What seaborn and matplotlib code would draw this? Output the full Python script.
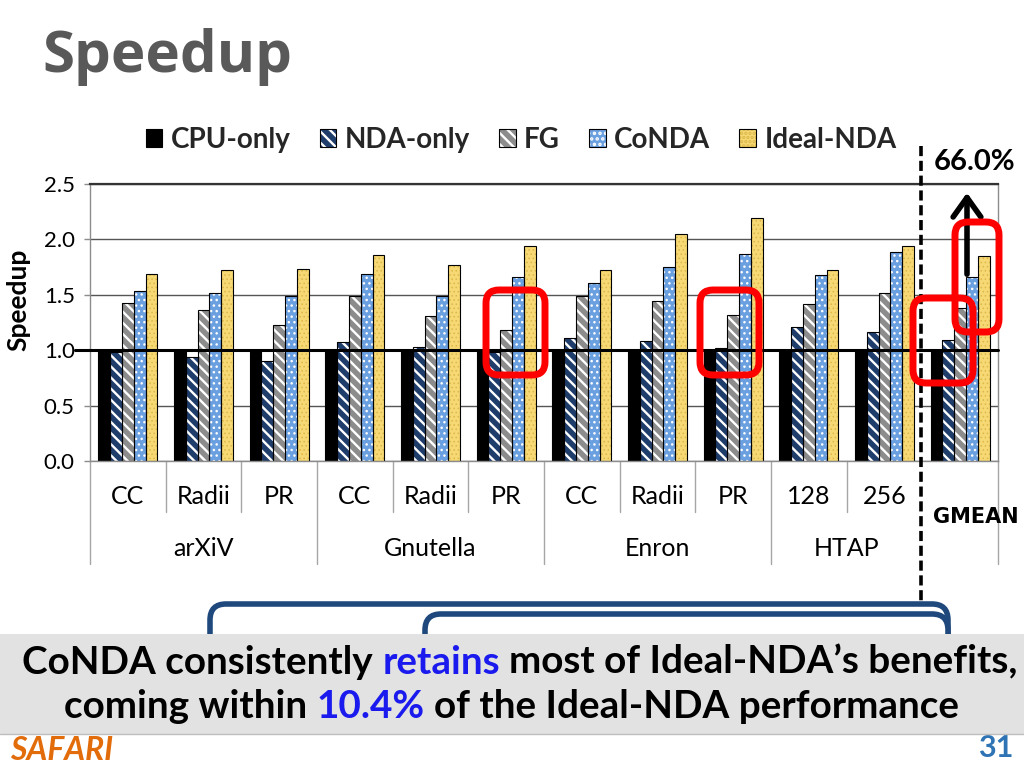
import numpy as np
import pandas as pd
import matplotlib
matplotlib.use("Agg")
import matplotlib.pyplot as plt
import seaborn as sns
from matplotlib.patches import Rectangle, FancyBboxPatch, Patch, FancyArrowPatch
from matplotlib.transforms import IdentityTransform
from matplotlib.lines import Line2D
from matplotlib.legend_handler import HandlerTuple

# ---------------- data ----------------
categories = ["CC", "Radii", "PR", "CC", "Radii", "PR", "CC", "Radii", "PR", "128", "256", "GMEAN"]
groups = ["arXiV", "Gnutella", "Enron", "HTAP"]
group_spans = [(0, 2), (3, 5), (6, 8), (9, 10)]
series = ["CPU-only", "NDA-only", "FG", "CoNDA", "Ideal-NDA"]
cpu_only = [1.00, 1.00, 1.00, 1.00, 1.00, 1.00, 1.00, 1.00, 1.00, 1.00, 1.00, 1.00]
nda_only = [0.98, 0.94, 0.90, 1.07, 1.03, 0.98, 1.11, 1.08, 1.02, 1.21, 1.16, 1.09]
fg = [1.43, 1.36, 1.23, 1.49, 1.31, 1.18, 1.49, 1.44, 1.32, 1.42, 1.52, 1.38]
conda = [1.53, 1.52, 1.49, 1.69, 1.49, 1.66, 1.61, 1.75, 1.87, 1.68, 1.89, 1.66]
ideal_nda = [1.69, 1.72, 1.73, 1.86, 1.77, 1.94, 1.72, 2.05, 2.19, 1.72, 1.94, 1.85]
yticks = [0.0, 0.5, 1.0, 1.5, 2.0, 2.5]

# ---------------- styling ----------------
W, H = 1024, 768
sns.set_theme(style="white")
plt.rcParams["font.family"] = ["Lato", "DejaVu Sans"]
plt.rcParams["hatch.linewidth"] = 1.7

face = {"CPU-only": "#000000", "NDA-only": "#1F3D6B", "FG": "#8C8C8C",
        "CoNDA": "#6A9FE0", "Ideal-NDA": "#F6D874"}
hatch = {"CPU-only": None, "NDA-only": "\\\\\\", "FG": "\\\\\\", "CoNDA": "...", "Ideal-NDA": "...."}
hcol = {"CPU-only": "#000000", "NDA-only": "#FFFFFF", "FG": "#FFFFFF",
        "CoNDA": "#FFFFFF", "Ideal-NDA": "#DDB848"}
hlw = {"CPU-only": 1.0, "NDA-only": 1.7, "FG": 1.7, "CoNDA": 1.0, "Ideal-NDA": 0.6}

keys = [f"k{i}" for i in range(len(categories))]
rows = []
for s, vals in zip(series, [cpu_only, nda_only, fg, conda, ideal_nda]):
    for k, v in zip(keys, vals):
        rows.append({"key": k, "series": s, "value": v})
df = pd.DataFrame(rows)

fig = plt.figure(figsize=(W / 100, H / 100), dpi=100)
AX_L, AX_R, AX_T, AX_B = 90, 998, 184, 461
ax = fig.add_axes([AX_L / W, 1 - AX_B / H, (AX_R - AX_L) / W, (AX_B - AX_T) / H])

sns.barplot(data=df, x="key", y="value", hue="series", order=keys, hue_order=series,
            palette=face, width=0.78, gap=0, saturation=1, legend=False, ax=ax)

for cont, s in zip(ax.containers, series):
    for bar in cont:
        bar.set_facecolor(face[s])
        if hatch[s]:
            bar.set_hatch(hatch[s])
        bar.set_edgecolor(hcol[s])
        bar.set_linewidth(0)
        if hasattr(bar, "set_hatch_linewidth"):
            bar.set_hatch_linewidth(hlw[s])
        bar.set_zorder(2)
        ax.add_patch(Rectangle((bar.get_x(), bar.get_y()), bar.get_width(), bar.get_height(),
                               fill=False, edgecolor="black", linewidth=0.8, zorder=2.5))

ax.set_xlim(-0.5, len(categories) - 0.5)
ax.set_ylim(0, 2.5)
ax.set_yticks(yticks)
ax.set_yticklabels([f"{t:.1f}" for t in yticks], fontsize=16)
ax.set_xticks([])
ax.set_xlabel("")
ax.set_ylabel("")
ax.yaxis.grid(True, color="#555555", linewidth=1)
ax.set_axisbelow(True)
ax.tick_params(axis="y", left=True, length=4, width=1, color="#8C8C8C", pad=7, labelcolor="black")
for side in ["left", "bottom", "right"]:
    ax.spines[side].set_color("#8C8C8C")
    ax.spines[side].set_linewidth(1)
ax.spines["top"].set_color("#333333")
ax.spines["top"].set_linewidth(1.6)
ax.axhline(1.0, xmin=-0.016, xmax=1, color="black", linewidth=2.2, zorder=3, clip_on=False)

# two-level category axis
ah = AX_B - AX_T
def ay(py):
    return (AX_B - py) / ah

xt = ax.get_xaxis_transform()
for i, c in enumerate(categories[:-1]):
    ax.text(i, ay(497), c, transform=xt, ha="center", va="center", fontsize=18, color="black")
for g, (a, b) in zip(groups, group_spans):
    ax.text((a + b) / 2, ay(549), g, transform=xt, ha="center", va="center", fontsize=18, color="black")
group_edges = {-0.5, 2.5, 5.5, 8.5, 11.5}
for e in np.arange(-0.5, len(categories), 1.0):
    if abs(e - 10.5) < 1e-6:
        continue
    bottom = 564 if any(abs(e - g) < 1e-6 for g in group_edges) else 512
    ax.add_line(Line2D([e, e], [0, ay(bottom)], transform=xt, color="#A6A6A6",
                       linewidth=1, clip_on=False))

# y label
fig.text(18 / W, 1 - 300 / H, "Speedup", rotation=90, fontsize=19, fontweight="bold",
         ha="center", va="center", color="black")

# legend
handles = [(Patch(facecolor=face[s], hatch=hatch[s], edgecolor=hcol[s], linewidth=0),
            Patch(fill=False, edgecolor="black", linewidth=0.8)) for s in series]
leg = fig.legend(handles, series, handler_map={tuple: HandlerTuple(ndivide=1)},
                 loc="center", bbox_to_anchor=(521 / W, 1 - 140 / H), ncol=5, frameon=False,
                 prop={"weight": "bold", "size": 20}, handlelength=0.6, handleheight=0.6,
                 handletextpad=0.3, columnspacing=1.05, borderaxespad=0)

# title
fig.text(42 / W, 1 - 57 / H, "Speedup", fontsize=42, fontweight="bold", color="#595959",
         ha="left", va="center", family=["Open Sans", "DejaVu Sans"])

# annotations on the chart
ID = IdentityTransform()
def P(x, y):
    return (x, H - y)

fig.add_artist(Line2D([921, 921], [H - 146, H - 604], transform=ID, color="black",
                      linewidth=2.6, linestyle=(0, (2.8, 1.3)), zorder=6))
fig.text(975 / W, 1 - 162 / H, "66.0%", fontsize=21, fontweight="bold", ha="center",
         va="center", color="black", zorder=6)
fig.add_artist(FancyArrowPatch(P(967, 277), P(967, 190), transform=ID,
                               arrowstyle="->,head_length=0.7,head_width=0.5",
                               mutation_scale=20, linewidth=4.0, color="black", zorder=6))
for (x0, y0, x1, y1) in [(486, 290, 545, 375), (700, 290, 759, 375),
                         (913, 298, 973, 383), (955, 222, 999, 332)]:
    fig.add_artist(FancyBboxPatch(P(x0, y1), x1 - x0, y1 - y0, transform=ID,
                                  boxstyle="round,pad=0,rounding_size=13",
                                  facecolor="none", edgecolor="#FF0000", linewidth=5, zorder=7))
fig.text(976 / W, 1 - 517 / H, "GMEAN", fontsize=15, fontweight="bold", ha="center",
         va="center", color="black", family=["DejaVu Sans"])

# blue callout boxes (partly hidden)
fig.add_artist(FancyBboxPatch(P(210, 710), 948 - 210, 710 - 604, transform=ID,
                              boxstyle="round,pad=0,rounding_size=16", facecolor="white",
                              edgecolor="#1F497D", linewidth=4, zorder=8))
fig.add_artist(FancyBboxPatch(P(425, 710), 948 - 425, 710 - 614, transform=ID,
                              boxstyle="round,pad=0,rounding_size=16", facecolor="white",
                              edgecolor="#1F497D", linewidth=4, zorder=8.5))

# grey banner
fig.add_artist(Rectangle(P(0, 734), W, 734 - 634, transform=ID, facecolor="#E2E2E2",
                         edgecolor="none", zorder=9))
fig.add_artist(Line2D([0, W], [H - 734, H - 734], transform=ID, color="#BDBDBD",
                      linewidth=1, zorder=9.5))

renderer = fig.canvas.get_renderer()

def measure(s, size):
    t = fig.text(0, 0, s, fontsize=size, fontweight="bold")
    w = t.get_window_extent(renderer).width
    t.remove()
    return w

def colored_line(segs, y, size, cx):
    full = "".join(s for s, _ in segs)
    total = measure(full, size)
    x0 = cx - total / 2
    acc = ""
    for s, c in segs:
        acc += s
        st = s.strip()
        xl = x0 + measure(acc.rstrip(), size) - measure(st, size)
        fig.text(xl / W, 1 - y / H, st, fontsize=size, fontweight="bold", color=c,
                 ha="left", va="center", zorder=10)

line1 = [("CoNDA consistently", "black"), (" retains", "#1A1AEE"),
         (" most of Ideal-NDA\u2019s benefits,", "black")]
line2 = [("coming within", "black"), (" 10.4%", "#1A1AEE"),
         (" of the Ideal-NDA performance", "black")]
base = 20
wfull = measure("".join(s for s, _ in line1), base)
bsize = base * (1018 - 22) / wfull
colored_line(line1, 662, bsize, cx=520)
colored_line(line2, 707, bsize, cx=512)

fig.text(10 / W, 1 - 751 / H, "SAFARI", fontsize=23, fontweight="bold", style="italic",
         color="#E36C0A", ha="left", va="center")
fig.text(1013 / W, 1 - 748 / H, "31", fontsize=22, color="#2E74B5", ha="right", va="center",
         fontweight="bold")

fig.savefig("out.png", dpi=100)
